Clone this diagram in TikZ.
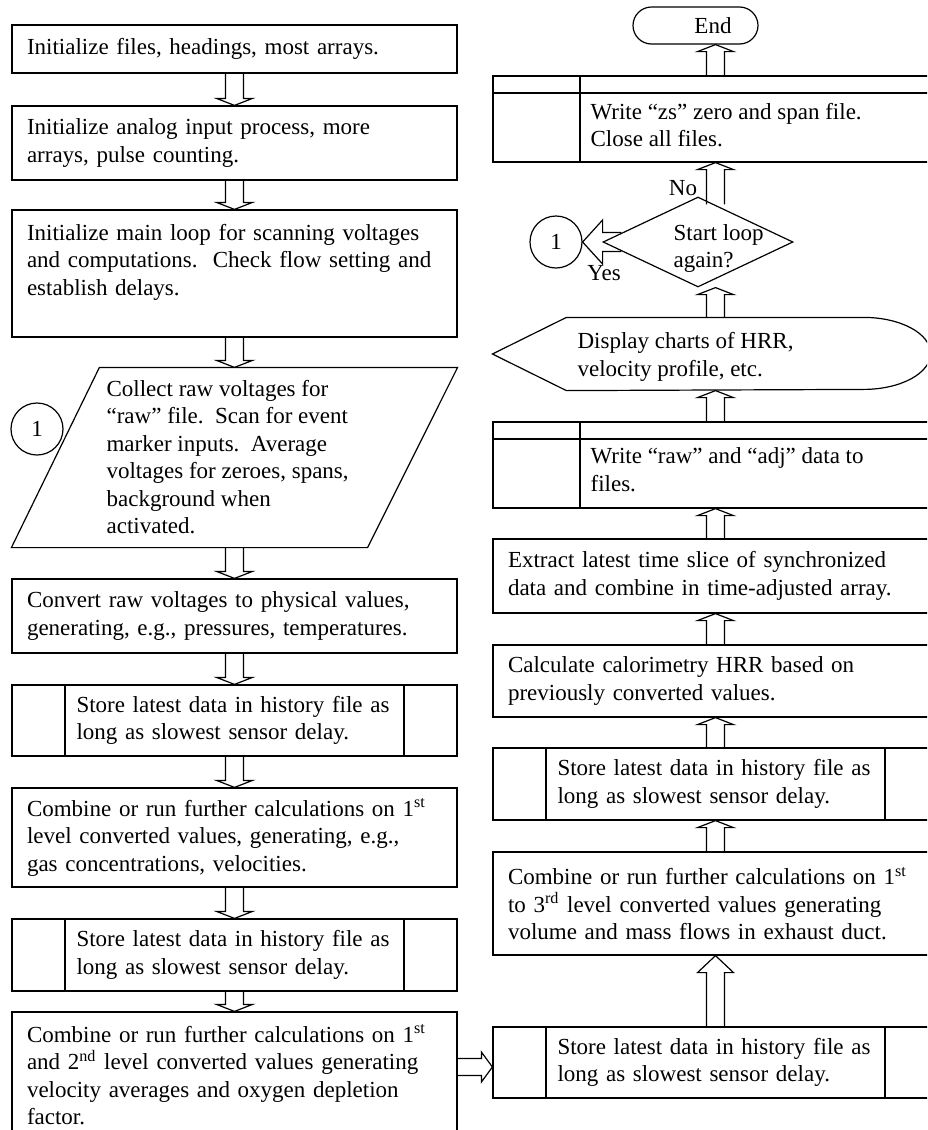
\documentclass[tikz,border=0pt]{standalone}
\usepackage{fontspec}
\setmainfont{Liberation Serif}
\usetikzlibrary{calc, shapes.geometric}

% hollow block arrow: shaft half width, head half width, head length, from, to
\newcommand{\blockarrow}[5]{%
  \coordinate (ba-s) at #4;
  \coordinate (ba-t) at #5;
  \coordinate (ba-h) at ($(ba-t)!#3!(ba-s)$);
  \draw ($(ba-s)!#1!90:(ba-t)$) -- ($(ba-h)!#1!90:(ba-t)$) -- ($(ba-h)!#2!90:(ba-t)$) -- (ba-t)
    -- ($(ba-h)!#2!-90:(ba-t)$) -- ($(ba-h)!#1!-90:(ba-t)$) -- ($(ba-s)!#1!-90:(ba-t)$);
}
\newcommand{\flowarrow}[2]{\blockarrow{4.5pt}{9pt}{3.5pt}{#1}{#2}}

\begin{document}
\begin{tikzpicture}[x=0.5pt, y=-0.5pt, line width=0.6pt,
    font=\fontsize{11.5pt}{13.75pt}\selectfont,
    box/.style={draw, rectangle, minimum width=222.5pt, text width=207.5pt, inner xsep=7.5pt, inner ysep=0pt, align=left},
    predef/.style={box, text width=158pt, inner xsep=32.25pt,
      path picture={\draw ([xshift=26.5pt]path picture bounding box.north west) -- ([xshift=26.5pt]path picture bounding box.south west)
        ([xshift=-26.5pt]path picture bounding box.north east) -- ([xshift=-26.5pt]path picture bounding box.south east);}},
    store/.style={draw, rectangle, minimum width=222.5pt, minimum height=43pt, inner sep=0pt,
      path picture={\draw ([yshift=-8.5pt]path picture bounding box.north west) -- ([yshift=-8.5pt]path picture bounding box.north east)
        ([xshift=43.5pt]path picture bounding box.north west) -- ([xshift=43.5pt]path picture bounding box.south west);}},
    term/.style={draw, rectangle, rounded corners=9.25pt, minimum width=62.5pt, minimum height=18.5pt, inner sep=0pt},
    decision/.style={draw, diamond, minimum width=95pt, minimum height=45pt, inner sep=0pt},
    conn/.style={draw, circle, minimum size=26pt, inner sep=0pt},
    txt/.style={align=left, inner sep=0pt}
  ]
  \useasboundingbox (0,0) rectangle (927,1130);
  \clip (0,0) rectangle (927,1130);

  % left column
  \node[box, minimum height=24pt] (init) at (234.5,49) {Initialize files, headings, most arrays.};
  \node[box, minimum height=37pt] (analog) at (234.5,143) {Initialize analog input process, more\\arrays, pulse counting.};
  \node[box, minimum height=63.5pt] (mainloop) at (234.5,273.5) {Initialize main loop for scanning voltages\\and computations.\ \ Check flow setting and\\establish delays.\\ \mbox{}};
  \node[minimum width=222.5pt, minimum height=89.5pt, inner sep=0pt] (collectbox) at (234.5,457.5) {};
  \draw ([xshift=44pt]collectbox.north west) -- (collectbox.north east) -- ([xshift=-45pt]collectbox.south east) -- (collectbox.south west) -- cycle;
  \node[txt, anchor=west] (collect) at (106,457) {Collect raw voltages for\\“raw” file.\ \ Scan for event\\marker inputs.\ \ Average\\voltages for zeroes, spans,\\background when\\activated.};
  \node[conn] (conn1) at (37,429) {1};
  \node[box, minimum height=37pt] (convert) at (234.5,616) {Convert raw voltages to physical values,\\generating, e.g., pressures, temperatures.};
  \node[predef, minimum height=35.5pt] (hist1) at (234.5,720.5) {Store latest data in history file as\\long as slowest sensor delay.};
  \node[box, minimum height=49.5pt] (level1) at (234.5,837.5) {Combine or run further calculations on 1\textsuperscript{st}\\level converted values, generating, e.g.,\\gas concentrations, velocities.};
  \node[predef, minimum height=36pt] (hist2) at (234.5,955) {Store latest data in history file as\\long as slowest sensor delay.};
  \node[box, minimum height=63pt] (level2) at (234.5,1075) {Combine or run further calculations on 1\textsuperscript{st}\\and 2\textsuperscript{nd} level converted values generating\\velocity averages and oxygen depletion\\factor.};

  % right column, read from bottom to top
  \node[predef, minimum height=35.5pt] (hist4) at (715.5,1062.5) {Store latest data in history file as\\long as slowest sensor delay.};
  \node[box, minimum height=51.5pt] (flows) at (715.5,903.5) {Combine or run further calculations on 1\textsuperscript{st}\\to 3\textsuperscript{rd} level converted values generating\\volume and mass flows in exhaust duct.};
  \node[predef, minimum height=36pt] (hist3) at (715.5,784) {Store latest data in history file as\\long as slowest sensor delay.};
  \node[box, minimum height=36pt] (hrr) at (715.5,681) {Calculate calorimetry HRR based on\\previously converted values.};
  \node[box, minimum height=37pt] (slice) at (715.5,576) {Extract latest time slice of synchronized\\data and combine in time-adjusted array.};
  \node[store] (kbox) at (715.5,465) {};
  \node[txt, anchor=west] (writeraw) at (590,469.5) {Write “raw” and “adj” data to\\files.};
  \node[minimum width=218.5pt, minimum height=36pt, inner sep=0pt] (dispbox) at (711.5,354) {};
  \draw (dispbox.west) -- ([xshift=37pt]dispbox.north west) -- ([xshift=-33.5pt]dispbox.north east)
    arc[start angle=90, end angle=-90, x radius=33.5pt, y radius=18pt] -- ([xshift=37pt]dispbox.south west) -- cycle;
  \node[txt, anchor=west] (disp) at (577,357) {Display charts of HRR,\\velocity profile, etc.};
  \node[decision] (again) at (698,242) {};
  \node[txt, anchor=west] (againtxt) at (673,248.5) {Start loop\\again?};
  \node[conn] (conn2) at (556,242) {1};
  \node (no) at (683,188) {No};
  \node (yes) at (604,273) {Yes};
  \node[store] (zsbox) at (715.5,119) {};
  \node[txt, anchor=west] (zs) at (590,125) {Write “zs” zero and span file.\\Close all files.};
  \node[term] (stop) at (695.5,25.5) {\hspace*{17.5pt}End};

  % connectors
  \flowarrow{(init.south)}{(analog.north)}
  \flowarrow{(analog.south)}{(mainloop.north)}
  \flowarrow{(mainloop.south)}{(collectbox.north)}
  \flowarrow{(collectbox.south)}{(convert.north)}
  \flowarrow{(convert.south)}{(hist1.north)}
  \flowarrow{(hist1.south)}{(level1.north)}
  \flowarrow{(level1.south)}{(hist2.north)}
  \flowarrow{(hist2.south)}{(level2.north)}
  \blockarrow{4.25pt}{7.5pt}{5.5pt}{($(hist4.west -| level2.east)+(0,4.5)$)}{($(hist4.west)+(0,4.5)$)}
  \blockarrow{4.5pt}{9pt}{8.5pt}{(hist4.north)}{(flows.south)}
  \flowarrow{(flows.north)}{(hist3.south)}
  \flowarrow{(hist3.north)}{(hrr.south)}
  \flowarrow{(hrr.north)}{(slice.south)}
  \flowarrow{(slice.north)}{(kbox.south)}
  \flowarrow{(kbox.north)}{(dispbox.south -| kbox.north)}
  \flowarrow{(dispbox.north -| kbox.north)}{(again.south -| kbox.north)}
  \flowarrow{($(again.north -| zsbox.south)+(0,8)$)}{(zsbox.south)}
  \flowarrow{(zsbox.north)}{(stop.south -| zsbox.north)}
  \blockarrow{4.75pt}{11pt}{10pt}{($(again.west)+(19,0)$)}{(conn2.east)}
\end{tikzpicture}
\end{document}
